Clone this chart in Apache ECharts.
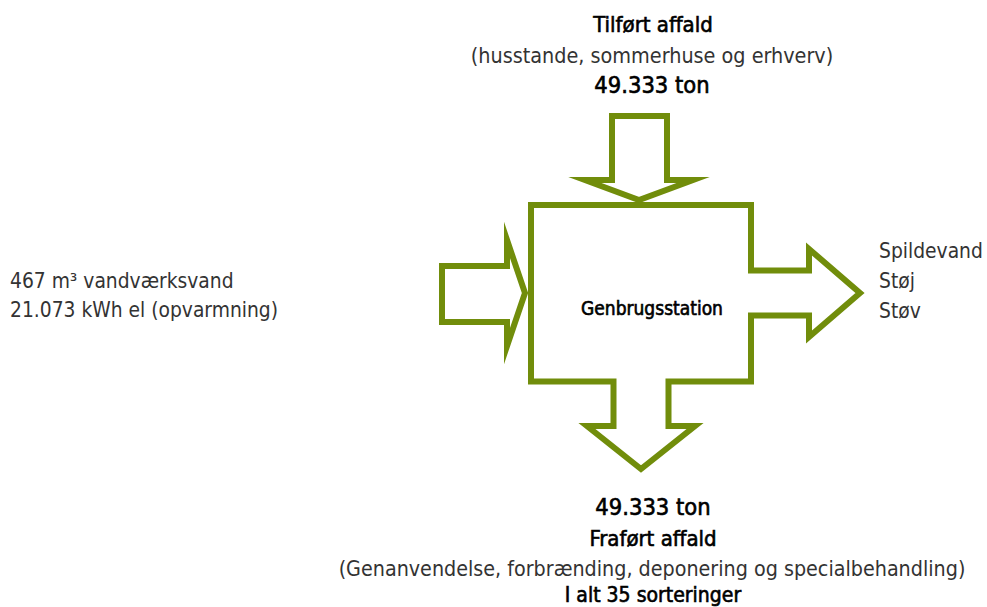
<!DOCTYPE html>
<html>
<head>
<meta charset="utf-8">
<script src="https://cdn.jsdelivr.net/npm/echarts@6/dist/echarts.min.js"></script>
<style>
  html, body { margin: 0; padding: 0; background: #fff; }
  #main { width: 987px; height: 607px; }
</style>
</head>
<body>
<div id="main"></div>
<script>
// 轮廓点（画布坐标，经隐藏坐标轴绘制）
var stationOutline = [
  [641, 205], [751, 205], [751, 270.5], [809, 270.5], [809, 249], [860, 293],
  [809, 337], [809, 315.5], [751, 315.5], [751, 381.5], [668.5, 381.5],
  [668.5, 426], [695, 426], [641, 469], [587, 426], [613.5, 426],
  [613.5, 381.5], [531, 381.5], [531, 205], [641, 205]
];
var topArrow = [
  [640, 116], [667, 116], [667, 180], [693, 180], [639, 200],
  [585, 180], [612, 180], [612, 116], [640, 116]
];
var leftArrow = [
  [442, 294], [442, 266], [507, 266], [507, 240], [525, 293],
  [507, 346], [507, 322], [442, 322], [442, 294]
];

// 文字
var topLines = ['Tilført affald', '(husstande, sommerhuse og erhverv)', '49.333 ton'];
var leftLines = ['467 m³ vandværksvand', '21.073 kWh el (opvarmning)'];
var rightLines = ['Spildevand', 'Støj', 'Støv'];
var centerLabel = 'Genbrugsstation';
var bottomLines = ['49.333 ton', 'Fraført affald', '(Genanvendelse, forbrænding, deponering og specialbehandling)', 'I alt 35 sorteringer'];

var green = '#718d0b';
var fontName = "'DejaVu Sans Condensed', 'Liberation Sans Narrow', sans-serif";

function outlineSeries(points) {
  return {
    type: 'line',
    data: points,
    showSymbol: false,
    silent: true,
    animation: false,
    lineStyle: {
      color: green,
      width: 6,
      join: 'miter',
      miterLimit: 20
    }
  };
}

// heavy = 细描边模拟中等字重
function textItem(text, x, y, size, color, heavy, align) {
  return {
    type: 'text',
    x: x,
    y: y,
    silent: true,
    style: {
      text: text,
      fill: color,
      stroke: heavy ? color : null,
      lineWidth: heavy ? 0.6 : 0,
      font: 'normal ' + size + 'px ' + fontName,
      align: align || 'center',
      verticalAlign: 'middle'
    }
  };
}

var graphics = [
  textItem(topLines[0], 653, 24, 22, '#000', true),
  textItem(topLines[1], 652, 55, 21.4, '#333'),
  textItem(topLines[2], 652, 85, 23.5, '#000', true),
  textItem(centerLabel, 652, 308, 19, '#000', true),
  textItem(leftLines[0], 10, 281, 20.8, '#333', false, 'left'),
  textItem(leftLines[1], 10, 310, 20.8, '#333', false, 'left'),
  textItem(rightLines[0], 879, 251, 20.8, '#333', false, 'left'),
  textItem(rightLines[1], 879, 281, 20.8, '#333', false, 'left'),
  textItem(rightLines[2], 879, 311, 20.8, '#333', false, 'left'),
  textItem(bottomLines[0], 653, 507, 23.5, '#000', true),
  textItem(bottomLines[1], 653, 538, 22, '#000', true),
  textItem(bottomLines[2], 652, 568, 21.3, '#333'),
  textItem(bottomLines[3], 653, 595, 21, '#000', true)
];

var chart = echarts.init(document.getElementById('main'), null, { renderer: 'svg' });
chart.setOption({
  backgroundColor: '#ffffff',
  animation: false,
  grid: { left: 0, right: 0, top: 0, bottom: 0 },
  xAxis: { type: 'value', min: 0, max: 987, show: false },
  yAxis: { type: 'value', min: 0, max: 607, inverse: true, show: false },
  series: [
    outlineSeries(stationOutline),
    outlineSeries(topArrow),
    outlineSeries(leftArrow)
  ],
  graphic: graphics
});
</script>
</body>
</html>
